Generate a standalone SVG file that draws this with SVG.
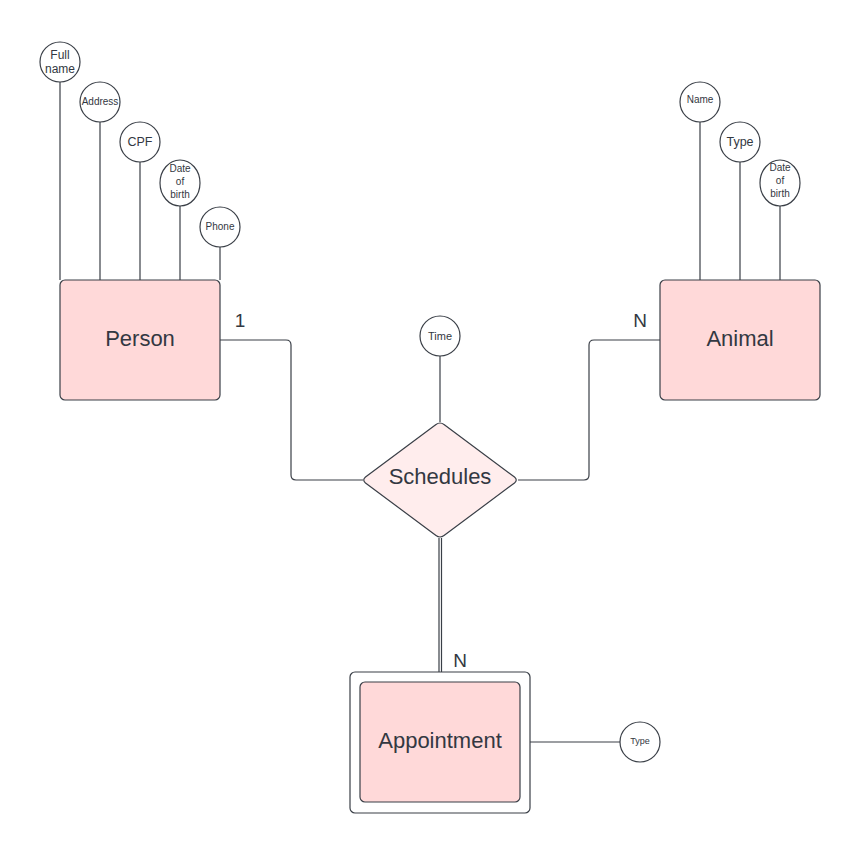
<svg xmlns="http://www.w3.org/2000/svg" width="860" height="854" viewBox="0 0 860 854">
<style>
text{font-family:"Liberation Sans",Arial,sans-serif;fill:#333842;text-anchor:middle}
.ent{fill:#ffd9d9;stroke:#3a3f47;stroke-width:1.2}
.attr{fill:#ffffff;stroke:#3a3f47;stroke-width:1.2}
.ln{fill:none;stroke:#3a3f47;stroke-width:1.2}
.big{font-size:22px}
.card{font-size:19px}
</style>
<rect width="860" height="854" fill="#ffffff"/>
<g id="connectors">
<path class="ln" d="M60 82V280M100 122V280M140 162V280M180 206V280M220 247V280"/>
<path class="ln" d="M700 122V280M740 162V280M780 206V280"/>
<path class="ln" d="M440 356V422"/>
<path class="ln" d="M220 340H286Q291 340 291 345V475Q291 480 296 480H363"/>
<path class="ln" d="M660 340H594Q589 340 589 345V475Q589 480 584 480H518"/>
<path class="ln" d="M439 538V682M441.5 538V682"/>
<path class="ln" d="M530 742H620"/>
<text class="card" x="240" y="327">1</text>
<text class="card" x="640" y="327">N</text>
<text class="card" x="460" y="667">N</text>
</g>
<g id="person">
<rect class="ent" x="60" y="280" width="160" height="120" rx="5"/>
<text class="big" x="140" y="346">Person</text>
</g>
<g id="person-fullname">
<circle class="attr" cx="60" cy="62" r="20"/>
<text x="60" y="59" font-size="12">Full</text>
<text x="60" y="73" font-size="12">name</text>
</g>
<g id="person-address">
<circle class="attr" cx="100" cy="102" r="20"/>
<text x="100" y="105" font-size="10">Address</text>
</g>
<g id="person-cpf">
<circle class="attr" cx="140" cy="142" r="20"/>
<text x="140" y="146" font-size="12.5">CPF</text>
</g>
<g id="person-dob">
<ellipse class="attr" cx="180" cy="183" rx="20" ry="23"/>
<text x="180" y="172" font-size="10">Date</text>
<text x="180" y="185" font-size="10">of</text>
<text x="180" y="198" font-size="10">birth</text>
</g>
<g id="person-phone">
<circle class="attr" cx="220" cy="227" r="20"/>
<text x="220" y="230" font-size="10">Phone</text>
</g>
<g id="animal">
<rect class="ent" x="660" y="280" width="160" height="120" rx="5"/>
<text class="big" x="740" y="346">Animal</text>
</g>
<g id="animal-name">
<circle class="attr" cx="700" cy="102" r="20"/>
<text x="700" y="103" font-size="10">Name</text>
</g>
<g id="animal-type">
<circle class="attr" cx="740" cy="142" r="20"/>
<text x="740" y="146" font-size="12.5">Type</text>
</g>
<g id="animal-dob">
<ellipse class="attr" cx="780" cy="183" rx="20" ry="23"/>
<text x="780" y="171" font-size="10">Date</text>
<text x="780" y="184" font-size="10">of</text>
<text x="780" y="197" font-size="10">birth</text>
</g>
<g id="schedules">
<path d="M436 424.5Q440 421.5 444 424.5L514.5 477Q518 480 514.5 483L444 535.5Q440 538.5 436 535.5L365.5 483Q362 480 365.5 477Z" fill="#ffeded" stroke="#3a3f47" stroke-width="1.2"/>
<text class="big" x="440" y="484">Schedules</text>
</g>
<g id="schedules-time">
<circle class="attr" cx="440" cy="336" r="20"/>
<text x="440" y="340" font-size="11">Time</text>
</g>
<g id="appointment">
<rect x="350" y="672" width="180" height="141" rx="5" fill="#ffffff" stroke="#3a3f47" stroke-width="1.2"/>
<rect class="ent" x="360" y="682" width="160" height="120" rx="5"/>
<text class="big" x="440" y="748">Appointment</text>
</g>
<g id="appointment-type">
<circle class="attr" cx="640" cy="742" r="20"/>
<text x="640" y="744" font-size="9">Type</text>
</g>
</svg>
